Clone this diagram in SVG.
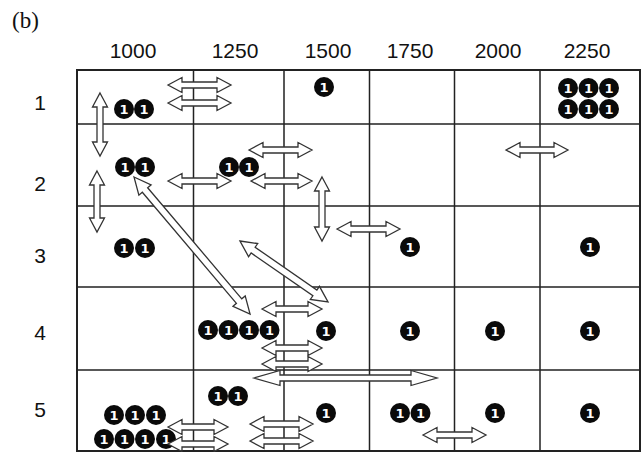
<svg xmlns="http://www.w3.org/2000/svg" xmlns:xlink="http://www.w3.org/1999/xlink" width="643" height="452" viewBox="0 0 643 452">
<style>
.lbl{font-family:"Liberation Sans",Arial,sans-serif;font-size:21px;fill:#111;text-anchor:middle}
.title{font-family:"Liberation Serif","Times New Roman",serif;font-size:23px;fill:#111}
.grid{fill:none;stroke:#222;stroke-width:1.5}
.border{fill:none;stroke:#222;stroke-width:2}
.dot{fill:#0a0a0a}
.num{fill:#fff;font-family:"DejaVu Sans",sans-serif;font-weight:bold;font-size:13px;text-anchor:middle}
.arr{fill:#fff;stroke:#333;stroke-width:1.3;stroke-linejoin:miter}
</style>
<defs>
<g id="one"><circle class="dot" r="10"/><text class="num" y="4.7">1</text></g>
</defs>
<rect width="643" height="452" fill="#fff"/>
<text class="title" x="12" y="28">(b)</text>
<g id="col-labels">
<text class="lbl" x="133" y="58">1000</text>
<text class="lbl" x="235" y="58">1250</text>
<text class="lbl" x="328" y="58">1500</text>
<text class="lbl" x="410" y="58">1750</text>
<text class="lbl" x="498" y="58">2000</text>
<text class="lbl" x="587" y="58">2250</text>
</g>
<g id="row-labels">
<text class="lbl" x="40" y="110">1</text>
<text class="lbl" x="40" y="191">2</text>
<text class="lbl" x="40" y="263">3</text>
<text class="lbl" x="40" y="340">4</text>
<text class="lbl" x="40" y="417">5</text>
</g>
<g id="grid">
<path class="grid" d="M193.5 70V451M284 70V451M369.5 70V451M454.5 70V451M540 70V451M77 124H640M77 206H640M77 287H640M77 370H640"/>
<rect class="border" x="77" y="70" width="563" height="381"/>
</g>
<g id="cells">
<g id="r1c1000"><use xlink:href="#one" x="124" y="109"/><use xlink:href="#one" x="144" y="109"/></g>
<g id="r1c1500"><use xlink:href="#one" x="324" y="87"/></g>
<g id="r1c2250"><use xlink:href="#one" x="568" y="88"/><use xlink:href="#one" x="588.5" y="88"/><use xlink:href="#one" x="609" y="88"/><use xlink:href="#one" x="568" y="109"/><use xlink:href="#one" x="588.5" y="109"/><use xlink:href="#one" x="609" y="109"/></g>
<g id="r2c1000"><use xlink:href="#one" x="125" y="167"/><use xlink:href="#one" x="145" y="167"/></g>
<g id="r2c1250"><use xlink:href="#one" x="229" y="167"/><use xlink:href="#one" x="249" y="167"/></g>
<g id="r3c1000"><use xlink:href="#one" x="124" y="248"/><use xlink:href="#one" x="145" y="248"/></g>
<g id="r3c1750"><use xlink:href="#one" x="410" y="247"/></g>
<g id="r3c2250"><use xlink:href="#one" x="590" y="247"/></g>
<g id="r4c1250"><use xlink:href="#one" x="208" y="330"/><use xlink:href="#one" x="228.5" y="330"/><use xlink:href="#one" x="249" y="330"/><use xlink:href="#one" x="269.5" y="330"/></g>
<g id="r4c1500"><use xlink:href="#one" x="326" y="331"/></g>
<g id="r4c1750"><use xlink:href="#one" x="410" y="331"/></g>
<g id="r4c2000"><use xlink:href="#one" x="495" y="331"/></g>
<g id="r4c2250"><use xlink:href="#one" x="590" y="331"/></g>
<g id="r5c1000"><use xlink:href="#one" x="114" y="415"/><use xlink:href="#one" x="135" y="415"/><use xlink:href="#one" x="156" y="415"/><use xlink:href="#one" x="104" y="439"/><use xlink:href="#one" x="124.5" y="439"/><use xlink:href="#one" x="145" y="439"/><use xlink:href="#one" x="166" y="439"/></g>
<g id="r5c1250"><use xlink:href="#one" x="218" y="396"/><use xlink:href="#one" x="238" y="396"/></g>
<g id="r5c1500"><use xlink:href="#one" x="326" y="413"/></g>
<g id="r5c1750"><use xlink:href="#one" x="400" y="413"/><use xlink:href="#one" x="420.5" y="413"/></g>
<g id="r5c2000"><use xlink:href="#one" x="495" y="413"/></g>
<g id="r5c2250"><use xlink:href="#one" x="590" y="413"/></g>
</g>
<g id="connectors">
<polygon class="arr" points="168,85 182,77.5 182,82 217,82 217,77.5 231,85 217,92.5 217,88 182,88 182,92.5"/>
<polygon class="arr" points="168,103 182,95.5 182,100 217,100 217,95.5 231,103 217,110.5 217,106 182,106 182,110.5"/>
<polygon class="arr" points="100,93 107.5,107 103,107 103,142 107.5,142 100,156 92.5,142 97,142 97,107 92.5,107"/>
<polygon class="arr" points="97,171 104.5,185 100,185 100,218 104.5,218 97,232 89.5,218 94,218 94,185 89.5,185"/>
<polygon class="arr" points="168,181 182,173.5 182,178 217,178 217,173.5 231,181 217,188.5 217,184 182,184 182,188.5"/>
<polygon class="arr" points="249,150 263,142.5 263,147 298,147 298,142.5 312,150 298,157.5 298,153 263,153 263,157.5"/>
<polygon class="arr" points="251,181 265,173.5 265,178 298,178 298,173.5 312,181 298,188.5 298,184 265,184 265,188.5"/>
<polygon class="arr" points="322,177 329.5,191 325,191 325,227 329.5,227 322,241 314.5,227 319,227 319,191 314.5,191"/>
<polygon class="arr" points="337,229 351,221.5 351,226 386,226 386,221.5 400,229 386,236.5 386,232 351,232 351,236.5"/>
<polygon class="arr" points="506,150 520,142.5 520,147 554,147 554,142.5 568,150 554,157.5 554,153 520,153 520,157.5"/>
<polygon class="arr" transform="translate(134 177) rotate(49.74)" points="0,0 17,-8 17,-3.5 162.6,-3.5 162.6,-8 179.6,0 162.6,8 162.6,3.5 17,3.5 17,8"/>
<polygon class="arr" transform="translate(240 241) rotate(34.73)" points="0,0 16,-8 16,-3.5 91.1,-3.5 91.1,-8 107.1,0 91.1,8 91.1,3.5 16,3.5 16,8"/>
<polygon class="arr" points="262,309 276,301.5 276,306 308,306 308,301.5 322,309 308,316.5 308,312 276,312 276,316.5"/>
<polygon class="arr" points="262,348 276,340.5 276,345 308,345 308,340.5 322,348 308,355.5 308,351 276,351 276,355.5"/>
<polygon class="arr" points="262,364 276,356.5 276,361 308,361 308,356.5 322,364 308,371.5 308,367 276,367 276,371.5"/>
<polygon class="arr" points="254,378 280,370.5 280,375 411,375 411,370.5 437,378 411,385.5 411,381 280,381 280,385.5"/>
<polygon class="arr" points="168,427 182,419.5 182,424 214,424 214,419.5 228,427 214,434.5 214,430 182,430 182,434.5"/>
<polygon class="arr" points="168,444 182,436.5 182,441 214,441 214,436.5 228,444 214,451.5 214,447 182,447 182,451.5"/>
<polygon class="arr" points="250,424 264,416.5 264,421 299,421 299,416.5 313,424 299,431.5 299,427 264,427 264,431.5"/>
<polygon class="arr" points="250,441 264,433.5 264,438 299,438 299,433.5 313,441 299,448.5 299,444 264,444 264,448.5"/>
<polygon class="arr" points="423,435 437,427.5 437,432 472,432 472,427.5 486,435 472,442.5 472,438 437,438 437,442.5"/>
</g>
</svg>
